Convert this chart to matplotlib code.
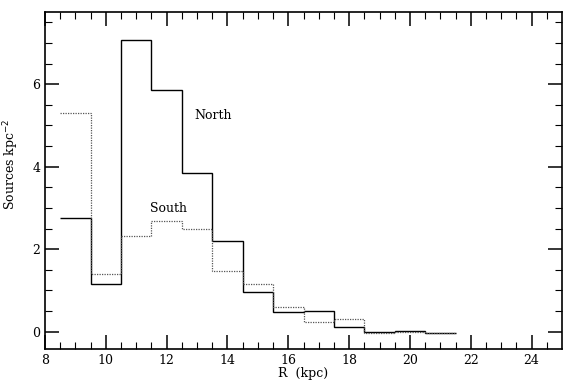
import matplotlib
matplotlib.use("Agg")
import matplotlib.pyplot as plt
import numpy as np

bin_edges = [8.5, 9.5, 10.5, 11.5, 12.5, 13.5, 14.5, 15.5, 16.5, 17.5, 18.5, 19.5, 20.5, 21.5]
north = [2.75, 1.16, 7.08, 5.86, 3.84, 2.19, 0.97, 0.48, 0.50, 0.12, -0.01, 0.02, -0.02]
south = [5.29, 1.40, 2.31, 2.69, 2.50, 1.48, 1.145, 0.60, 0.24, 0.31, -0.03, -0.01, -0.03]

xticks = [8, 10, 12, 14, 16, 18, 20, 22, 24]
yticks = [0, 2, 4, 6]

plt.rcParams['font.family'] = ['DejaVu Serif']

fig = plt.figure(figsize=(5.7, 3.84), dpi=100)
ax = fig.add_axes([45/570, 1-349/384, (562-45)/570, (349-12)/384])

ax.stairs(north, bin_edges, baseline=None, color='black', lw=1.0)
ax.stairs(south, bin_edges, baseline=None, color='#555555', lw=0.9, linestyle=(0, (1, 1)))

ax.text(13.54, 5.24, "North", ha='center', va='center', fontsize=9)
ax.text(12.05, 2.99, "South", ha='center', va='center', fontsize=9)

ax.set_xlim(8, 25)
ax.set_ylim(-0.42, 7.75)
ax.set_xticks(xticks)
ax.set_yticks(yticks)
ax.set_xticks(np.arange(8.5, 25, 0.5), minor=True)
ax.set_yticks(np.arange(-0.0, 7.75, 0.5), minor=True)
ax.tick_params(which='both', direction='in', top=True, right=True, labelsize=9, colors='black')
ax.tick_params(which='major', length=10, width=1.1)
ax.tick_params(which='minor', length=5, width=0.8)
for s in ax.spines.values():
    s.set_linewidth(1.2)

ax.set_xlabel("R  (kpc)", fontsize=9, labelpad=0)
ax.set_ylabel("Sources kpc$^{-2}$", fontsize=9)
ax.yaxis.set_label_coords(-24/517, (349-164)/337)

fig.savefig("out.png", dpi=100)
